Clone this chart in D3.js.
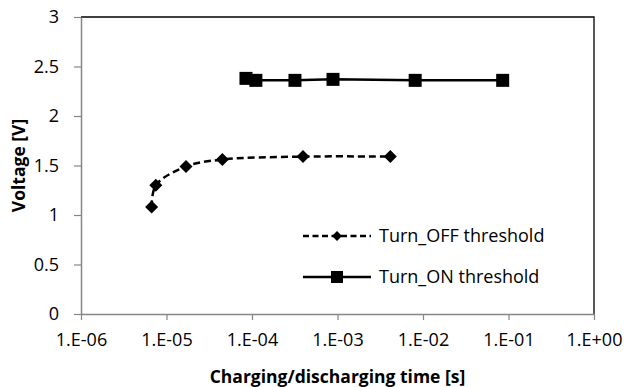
<!DOCTYPE html>
<html><head><meta charset="utf-8">
<script src="https://cdn.jsdelivr.net/npm/d3@7/dist/d3.min.js"></script>
<style>body{margin:0;background:#fff}svg{display:block}text{font-family:"Open Sans",sans-serif}</style>
</head><body><svg id="c" width="624" height="387"></svg>
<script>
const offX = [6.7e-6, 7.5e-6, 1.69e-5, 4.5e-5, 3.95e-4, 4.15e-3];
const offY = [1.08, 1.30, 1.49, 1.56, 1.59, 1.59];
const onX = [8.5e-5, 1.11e-4, 3.18e-4, 8.86e-4, 8.1e-3, 8.55e-2];
const onY = [2.38, 2.36, 2.36, 2.37, 2.36, 2.36];
const xTicks = [1e-6, 1e-5, 1e-4, 1e-3, 1e-2, 1e-1, 1e0];
const xTickLabels = ["1.E-06","1.E-05","1.E-04","1.E-03","1.E-02","1.E-01","1.E+00"];
const yTicks = [0, 0.5, 1, 1.5, 2, 2.5, 3];
const seriesNames = ["Turn_OFF threshold", "Turn_ON threshold"];

const svg = d3.select("#c");
const L = 81, R = 594, T = 17, B = 314;
const x = d3.scaleLog().domain([1e-6, 1]).range([L, R]);
const y = d3.scaleLinear().domain([0, 3]).range([B, T]);

// plot border (top/right)
svg.append("path").attr("d", `M${L},${T}H${R}V${B}`).attr("fill","none").attr("stroke","#000").attr("stroke-width",1.3);

const xa = svg.append("g").attr("transform",`translate(0,${B})`)
  .call(d3.axisBottom(x).tickValues(xTicks).tickFormat((d,i)=>xTickLabels[i]).tickSizeInner(6).tickSizeOuter(0).tickPadding(13));
const ya = svg.append("g").attr("transform",`translate(${L},0)`)
  .call(d3.axisLeft(y).tickValues(yTicks).tickFormat(d3.format("")).tickSizeInner(7).tickSizeOuter(0).tickPadding(15));
[xa, ya].forEach(a=>{
  a.select(".domain").attr("stroke","#868686").attr("stroke-width",1.5);
  a.selectAll(".tick line").attr("stroke","#868686").attr("stroke-width",1.2);
  a.selectAll(".tick text").attr("fill","#000").style("font-size","18px").style("font-family","Open Sans");
});

const offData = offX.map((v,i)=>[v, offY[i]]);
const onData = onX.map((v,i)=>[v, onY[i]]);

svg.append("path").datum(offData)
  .attr("d", d3.line().x(d=>x(d[0])).y(d=>y(d[1])).curve(d3.curveCatmullRom.alpha(0.5)))
  .attr("fill","none").attr("stroke","#000").attr("stroke-width",2.5).attr("stroke-dasharray","7,4");
svg.append("path").datum(onData)
  .attr("d", d3.line().x(d=>x(d[0])).y(d=>y(d[1])))
  .attr("fill","none").attr("stroke","#000").attr("stroke-width",2.5);

const diamond = s => `M0,${-s}L${s},0L0,${s}L${-s},0Z`;
svg.append("g").selectAll("path").data(offData).join("path")
  .attr("transform", d=>`translate(${x(d[0])},${y(d[1])})`).attr("d", diamond(6.5)).attr("fill","#000");
svg.append("g").selectAll("rect").data(onData).join("rect")
  .attr("x", d=>x(d[0])-6.5).attr("y", d=>y(d[1])-6.5).attr("width",13).attr("height",13).attr("fill","#000");

// legend
const lg = svg.append("g");
const ly = [236, 277];
lg.append("line").attr("x1",303).attr("x2",371).attr("y1",ly[0]).attr("y2",ly[0])
  .attr("stroke","#000").attr("stroke-width",2.5).attr("stroke-dasharray","6,3.5");
lg.append("path").attr("transform",`translate(337,${ly[0]})`).attr("d",diamond(5)).attr("fill","#000");
lg.append("line").attr("x1",303).attr("x2",371).attr("y1",ly[1]).attr("y2",ly[1])
  .attr("stroke","#000").attr("stroke-width",2.5);
lg.append("rect").attr("x",331).attr("y",ly[1]-6).attr("width",12).attr("height",12).attr("fill","#000");
seriesNames.forEach((n,i)=>{
  lg.append("text").attr("x",379).attr("y",ly[i]).attr("dy","0.35em").style("font-size","18px").text(n);
});

svg.append("text").attr("x",(L+R)/2).attr("y",383).attr("text-anchor","middle")
  .style("font-size","17.5px").style("font-weight","bold").text("Charging/discharging time [s]");
svg.append("text").attr("transform",`translate(25,${(T+B)/2}) rotate(-90)`).attr("text-anchor","middle")
  .style("font-size","17.5px").style("font-weight","bold").text("Voltage [V]");
</script></body></html>
